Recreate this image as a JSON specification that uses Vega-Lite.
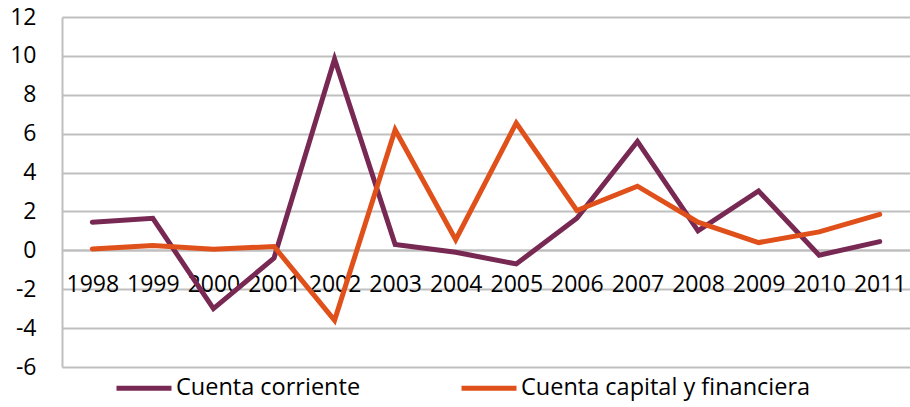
{
  "$schema": "https://vega.github.io/schema/vega-lite/v6.json",
  "autosize": "none",
  "width": 848,
  "height": 350,
  "padding": {"left": 62, "top": 17, "right": 0, "bottom": 40},
  "background": "white",
  "config": {
    "font": "Open Sans",
    "view": {"stroke": null}
  },
  "data": {
    "values": [
      {"year": "1998", "serie": "Cuenta corriente", "value": 1.45},
      {"year": "1999", "serie": "Cuenta corriente", "value": 1.65},
      {"year": "2000", "serie": "Cuenta corriente", "value": -3.0},
      {"year": "2001", "serie": "Cuenta corriente", "value": -0.4},
      {"year": "2002", "serie": "Cuenta corriente", "value": 9.84},
      {"year": "2003", "serie": "Cuenta corriente", "value": 0.3},
      {"year": "2004", "serie": "Cuenta corriente", "value": -0.1},
      {"year": "2005", "serie": "Cuenta corriente", "value": -0.7},
      {"year": "2006", "serie": "Cuenta corriente", "value": 1.65},
      {"year": "2007", "serie": "Cuenta corriente", "value": 5.6},
      {"year": "2008", "serie": "Cuenta corriente", "value": 1.0},
      {"year": "2009", "serie": "Cuenta corriente", "value": 3.05},
      {"year": "2010", "serie": "Cuenta corriente", "value": -0.25},
      {"year": "2011", "serie": "Cuenta corriente", "value": 0.45},
      {"year": "1998", "serie": "Cuenta capital y financiera", "value": 0.07},
      {"year": "1999", "serie": "Cuenta capital y financiera", "value": 0.25},
      {"year": "2000", "serie": "Cuenta capital y financiera", "value": 0.05},
      {"year": "2001", "serie": "Cuenta capital y financiera", "value": 0.2},
      {"year": "2002", "serie": "Cuenta capital y financiera", "value": -3.6},
      {"year": "2003", "serie": "Cuenta capital y financiera", "value": 6.2},
      {"year": "2004", "serie": "Cuenta capital y financiera", "value": 0.55},
      {"year": "2005", "serie": "Cuenta capital y financiera", "value": 6.55},
      {"year": "2006", "serie": "Cuenta capital y financiera", "value": 2.05},
      {"year": "2007", "serie": "Cuenta capital y financiera", "value": 3.3},
      {"year": "2008", "serie": "Cuenta capital y financiera", "value": 1.45},
      {"year": "2009", "serie": "Cuenta capital y financiera", "value": 0.4},
      {"year": "2010", "serie": "Cuenta capital y financiera", "value": 0.95},
      {"year": "2011", "serie": "Cuenta capital y financiera", "value": 1.85}
    ]
  },
  "mark": {"type": "line", "strokeWidth": 5, "strokeCap": "round", "strokeJoin": "miter"},
  "encoding": {
    "x": {
      "field": "year",
      "type": "ordinal",
      "title": null,
      "axis": {
        "labelAngle": 0,
        "offset": -117,
        "ticks": false,
        "domainColor": "#BFBFBF",
        "domainWidth": 2,
        "labelFontSize": 23,
        "labelColor": "#000000",
        "labelPadding": 23,
        "grid": false
      }
    },
    "y": {
      "field": "value",
      "type": "quantitative",
      "title": null,
      "scale": {"domain": [-6, 12], "nice": false},
      "axis": {
        "values": [-6, -4, -2, 0, 2, 4, 6, 8, 10, 12],
        "labelExpr": "'' + datum.value",
        "ticks": false,
        "domainColor": "#BFBFBF",
        "domainWidth": 2,
        "gridColor": "#BFBFBF",
        "gridWidth": 2,
        "labelFontSize": 23,
        "labelColor": "#000000",
        "labelPadding": 26
      }
    },
    "color": {
      "field": "serie",
      "type": "nominal",
      "scale": {
        "domain": ["Cuenta corriente", "Cuenta capital y financiera"],
        "range": ["#772953", "#E0501A"]
      },
      "legend": {
        "title": null,
        "orient": "none",
        "legendX": 52,
        "legendY": 341,
        "direction": "horizontal",
        "symbolType": "stroke",
        "symbolSize": 3025,
        "symbolStrokeWidth": 5,
        "labelFontSize": 23.5,
        "labelColor": "#000000",
        "labelOffset": 2,
        "columnPadding": 90,
        "labelLimit": 500
      }
    }
  }
}
